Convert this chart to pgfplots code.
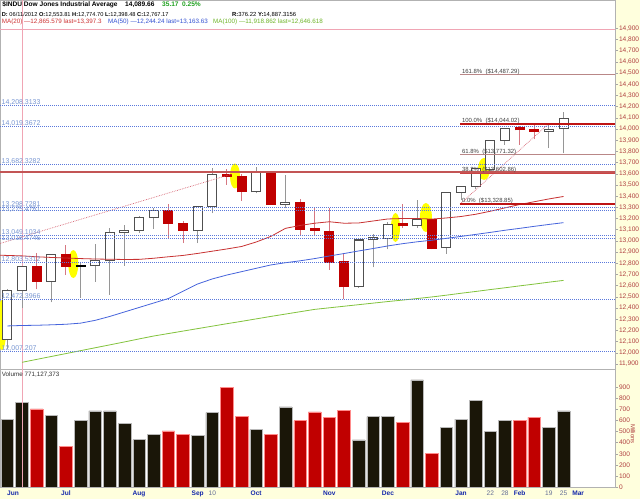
\documentclass[border=0pt]{standalone}
\usepackage{pgfplots}
\pgfplotsset{compat=1.18}
\usepackage{pgfplotstable}
\usepackage{fontspec}
\setmainfont{Liberation Sans}
\definecolor{bgyel}{RGB}{255,255,221}
\definecolor{candred}{RGB}{192,0,0}
\definecolor{wickred}{RGB}{214,120,130}
\definecolor{hollowb}{RGB}{80,80,80}
\definecolor{wickgray}{RGB}{150,150,150}
\definecolor{volblack}{RGB}{26,22,8}
\definecolor{ma20}{RGB}{200,50,50}
\definecolor{ma50}{RGB}{70,100,220}
\definecolor{ma100}{RGB}{130,195,60}
\definecolor{dotblue}{RGB}{90,120,220}
\definecolor{lblblue}{RGB}{120,150,210}
\definecolor{fibred}{RGB}{190,20,20}
\definecolor{fibthin}{RGB}{185,135,135}
\definecolor{resred}{RGB}{195,85,85}
\definecolor{trend}{RGB}{215,100,115}
\definecolor{cross}{RGB}{240,165,180}
\definecolor{ticklbl}{RGB}{176,64,64}
\definecolor{monthblue}{RGB}{20,40,170}
\definecolor{daygray}{RGB}{100,110,150}
\definecolor{hdrgreen}{RGB}{30,160,30}
\definecolor{hdrred}{RGB}{205,50,50}
\definecolor{hdrblue}{RGB}{50,80,210}
\definecolor{hdrgrn}{RGB}{110,180,40}
\definecolor{yel}{RGB}{255,255,0}

% weekly candles: i O H L C
\pgfplotstableread{
i O H L C
1 12119 12566 12035 12554
2 12554 12775 12398 12767
4 12640 12880 12451 12880
7 12777 12972 12635 12823
8 12822 13113 12517 13071
9 13073 13142 12776 13096
10 13096 13220 13075 13208
11 13207 13290 13105 13275
14 13090 13315 12979 13307
15 13306 13649 13247 13593
18 13437 13658 13425 13610
20 13329 13589 13290 13344
25 12588 13015 12580 13008
26 13009 13062 12764 13026
27 13025 13165 12925 13148
29 13135 13365 13118 13187
31 12938 13440 12883 13434
32 13435 13495 13366 13488
33 13488 13655 13460 13645
34 13640 13895 13610 13893
35 13896 14010 13857 14003
38 13982 14051 13828 13997
39 14000 14149 13783 14090
}\hollow
\pgfplotstableread{
i O H L C
3 12767 12895 12567 12640
5 12875 12963 12695 12772
12 13275 13330 13023 13158
13 13154 13181 12979 13091
16 13593 13643 13500 13579
17 13574 13600 13359 13437
19 13610 13615 13320 13329
21 13343 13372 13044 13104
22 13107 13291 13044 13093
23 13088 13291 12740 12811
24 12815 12889 12478 12588
28 13155 13330 13113 13135
30 13190 13195 12925 12934
36 14009 14025 13857 13993
37 13993 14036 13908 13982
}\redc
\pgfplotstableread{
i O H L C
6 12772 12800 12492 12777
}\blackc
% moving averages
\pgfplotstableread{
i v
0.494 12872
1 12870
2 12866
3 12858
4 12852
5 12847
6 12842
7 12838
8 12836
9 12834
10 12835
11 12845
12 12858
13 12870
14 12888
15 12908
16 12928
17 12950
18 12990
19 13040
20 13112
21 13138
22 13158
23 13171
24 13158
25 13160
26 13178
27 13196
28 13200
29 13200
30 13195
31 13205
32 13218
33 13238
34 13265
35 13295
36 13325
37 13350
38 13375
39 13397
}\mavingt
\pgfplotstableread{
i v
1 12240
2 12244
3 12246
4 12250
5 12255
6 12265
7 12290
8 12325
9 12365
10 12405
11 12445
12 12485
13 12550
14 12615
15 12660
16 12695
17 12725
18 12755
19 12785
20 12805
21 12822
22 12842
23 12865
24 12887
25 12910
26 12932
27 12955
28 12975
29 12992
30 13006
31 13023
32 13040
33 13058
34 13076
35 13095
36 13112
37 13130
38 13147
39 13163
}\mafifty
\pgfplotstableread{
i v
2 11915
3 11941
4 11967
5 11993
6 12019
7 12045
8 12071
9 12097
10 12124
11 12150
12 12172
13 12194
14 12216
15 12238
16 12260
17 12281
18 12303
19 12325
20 12346
21 12367
22 12388
23 12402
24 12416
25 12430
26 12444
27 12458
28 12471
29 12485
30 12499
31 12515
32 12532
33 12548
34 12565
35 12581
36 12598
37 12614
38 12631
39 12647
}\mahundred
% volume (millions)
\pgfplotstableread{
i v
1 614
2 764
4 650
6 602
7 687
8 687
9 572
10 427
11 475
14 463
15 671
18 518
20 723
25 425
26 635
27 635
29 967
31 536
32 614
33 780
34 500
35 602
38 542
39 687
}\volblk
\pgfplotstableread{
i v
3 705
5 367
12 506
13 472
16 903
17 638
19 472
21 599
22 678
23 629
24 689
28 587
30 307
36 602
37 629
}\volred

\pgfplotsset{
  wick/.style 2 args={draw=none, mark=none, forget plot,
    error bars/.cd, y dir=plus, y explicit, error mark=none,
    error bar style={draw=#1, line width=#2}},
  hline/.style={mark=none, forget plot},
  dotl/.style={hline, draw=dotblue, line width=1bp, dash pattern=on 1bp off 1bp},
}

\begin{document}
\begin{tikzpicture}[x=1bp,y=1bp]
\path[use as bounding box] (0,0) rectangle (640,499);
\fill[bgyel] (0,0) rectangle (640,499);

% ---------------- price panel ----------------
\begin{axis}[
  at={(0bp,130bp)}, anchor=south west,
  scale only axis, width=615bp, height=369bp,
  xmin=0.494, xmax=42.52, ymin=11855.2, ymax=15152.9,
  axis background/.style={fill=white},
  axis line style={draw=gray!60, line width=0.6bp},
  xtick=\empty,
  ytick={11900,12000,...,14900},
  ytick pos=right, yticklabel pos=right,
  tick align=outside, major tick length=3bp,
  tick style={draw=gray!70, line width=0.5bp},
  yticklabel style={font=\fontsize{6.6}{7}\selectfont, text=ticklbl, inner sep=0.8bp,
    /pgf/number format/1000 sep={,}, /pgf/number format/assume math mode=true},
  scaled y ticks=false,
]
% crosshair
\addplot[hline, draw=cross, line width=0.6bp] coordinates {(2,11855) (2,15153)};
\addplot[hline, draw=cross, line width=0.6bp] coordinates {(0.494,14887.3156) (42.52,14887.3156)};
% yellow highlight ovals
\fill[yel] (axis cs:0.63,12248) ellipse [x radius=4.5bp, y radius=25bp];
\fill[yel] (axis cs:5.503,12793) ellipse [x radius=5bp, y radius=14bp];
\fill[yel] (axis cs:16.55,13580) ellipse [x radius=5bp, y radius=12.5bp];
\fill[yel] (axis cs:27.52,13120) ellipse [x radius=4.5bp, y radius=14.5bp];
\fill[yel] (axis cs:29.60,13209) ellipse [x radius=6bp, y radius=14.5bp];
\fill[yel] (axis cs:33.57,13643) ellipse [x radius=6bp, y radius=11bp];
% wicks
\addplot[wick={wickgray}{1bp}] table[x=i, y=L, y error plus expr=\thisrow{H}-\thisrow{L}] {\hollow};
\addplot[wick={wickred}{1bp}] table[x=i, y=L, y error plus expr=\thisrow{H}-\thisrow{L}] {\redc};
\addplot[wick={wickgray}{1bp}] table[x=i, y=L, y error plus expr=\thisrow{H}-\thisrow{L}] {\blackc};
% hollow bodies
\addplot[wick={hollowb}{10bp}] table[x=i, y expr=\thisrow{O}-4.5, y error plus expr=\thisrow{C}-\thisrow{O}+9] {\hollow};
\addplot[wick={white}{8bp}] table[x=i, y expr=\thisrow{O}+4.5, y error plus expr=\thisrow{C}-\thisrow{O}-9] {\hollow};
% red bodies
\addplot[wick={candred}{10bp}] table[x=i, y expr=\thisrow{C}-4.5, y error plus expr=\thisrow{O}-\thisrow{C}+9] {\redc};
% black dash
\addplot[wick={black}{10bp}] table[x=i, y expr=\thisrow{O}-4.5, y error plus expr=\thisrow{C}-\thisrow{O}+9] {\blackc};
% moving averages
\addplot[hline, draw=ma100, line width=0.8bp] table[x=i,y=v] {\mahundred};
\addplot[hline, draw=ma50, line width=0.8bp] table[x=i,y=v] {\mafifty};
\addplot[hline, draw=ma20, line width=0.8bp] table[x=i,y=v] {\mavingt};
% trend lines
\addplot[hline, draw=trend, line width=0.7bp, densely dotted] coordinates {(0.494,12977) (16.35,13598)};
\addplot[hline, draw=trend, line width=0.7bp, densely dotted] coordinates {(31.93,13328.85) (37.96,14044.02)};
% resistance line
\addplot[hline, draw=resred, line width=1.8bp] coordinates {(0.494,13618) (42.52,13618)};
% fibonacci
\addplot[hline, draw=fibthin, line width=0.8bp] coordinates {(31.93,14487.29) (42.52,14487.29)};
\addplot[hline, draw=fibred, line width=1.5bp] coordinates {(31.93,14044.02) (42.52,14044.02)};
\addplot[hline, draw=fibthin, line width=0.8bp] coordinates {(31.93,13771.32) (42.52,13771.32)};
\addplot[hline, draw=fibred!80!white, line width=1.5bp] coordinates {(31.93,13602.86) (42.52,13602.86)};
\addplot[hline, draw=fibred, line width=1.5bp] coordinates {(31.93,13328.85) (42.52,13328.85)};
% dotted levels
\addplot[dotl] coordinates {(0.494,14208.3133) (42.52,14208.3133)};
\addplot[dotl] coordinates {(0.494,14019.3672) (42.52,14019.3672)};
\addplot[dotl] coordinates {(0.494,13682.3282) (42.52,13682.3282)};
\addplot[dotl] coordinates {(0.494,13298.7281) (42.52,13298.7281)};
\addplot[dotl] coordinates {(0.494,13275.4761) (42.52,13275.4761)};
\addplot[dotl] coordinates {(0.494,13049.1034) (42.52,13049.1034)};
\addplot[dotl] coordinates {(0.494,13018.4746) (42.52,13018.4746)};
\addplot[dotl] coordinates {(0.494,12803.5312) (42.52,12803.5312)};
\addplot[dotl] coordinates {(0.494,12472.3966) (42.52,12472.3966)};
\addplot[dotl] coordinates {(0.494,12007.207) (42.52,12007.207)};
% level labels
\begin{scope}[every node/.style={anchor=south west, inner sep=0.3bp, xshift=1.2bp, yshift=-0.3bp,
    font=\fontsize{7}{7}\selectfont, text=lblblue}]
\node at (axis cs:0.494,14208.3133) {14,208.3133};
\node at (axis cs:0.494,14019.3672) {14,019.3672};
\node at (axis cs:0.494,13682.3282) {13,682.3282};
\node at (axis cs:0.494,13298.7281) {13,298.7281};
\node at (axis cs:0.494,13249) {13,275.4761};
\node at (axis cs:0.494,13049.1034) {13,049.1034};
\node at (axis cs:0.494,12995) {13,018.4746};
\node at (axis cs:0.494,12803.5312) {12,803.5312};
\node at (axis cs:0.494,12472.3966) {12,472.3966};
\node at (axis cs:0.494,12007.207) {12,007.207};
\end{scope}
\begin{scope}[every node/.style={anchor=south west, inner sep=0.3bp, xshift=1.5bp, yshift=-0.3bp,
    font=\fontsize{6}{6}\selectfont, text=black!75}]
\node at (axis cs:31.93,14487.29) {161.8\%\ \ (\$14,487.29)};
\node at (axis cs:31.93,14044.02) {100.0\%\ \ (\$14,044.02)};
\node at (axis cs:31.93,13771.32) {61.8\%\ \ (\$13,771.32)};
\node at (axis cs:31.93,13602.86) {38.2\%\ \ (\$13,602.86)};
\node at (axis cs:31.93,13328.85) {0.0\%\ \ (\$13,328.85)};
\end{scope}
\end{axis}

% ---------------- volume panel ----------------
\begin{axis}[
  at={(0bp,12bp)}, anchor=south west,
  scale only axis, width=615bp, height=118bp,
  xmin=0.494, xmax=42.52, ymin=0, ymax=1066,
  axis background/.style={fill=white},
  axis line style={draw=gray!60, line width=0.6bp},
  xtick={1.382,5,10,14,15,18,23,27,32,34,35,36,38,39,40},
  xticklabels={\textcolor{monthblue}{\textbf{Jun}},\textcolor{monthblue}{\textbf{Jul}},
    \textcolor{monthblue}{\textbf{Aug}},\textcolor{monthblue}{\textbf{Sep}},\textcolor{daygray}{10},
    \textcolor{monthblue}{\textbf{Oct}},\textcolor{monthblue}{\textbf{Nov}},\textcolor{monthblue}{\textbf{Dec}},
    \textcolor{monthblue}{\textbf{Jan}},\textcolor{daygray}{22},\textcolor{daygray}{28},
    \textcolor{monthblue}{\textbf{Feb}},\textcolor{daygray}{19},\textcolor{daygray}{25},
    \textcolor{monthblue}{\textbf{Mar}}},
  x tick style={draw=none},
  xticklabel style={font=\fontsize{6.6}{7}\selectfont, inner sep=1bp, yshift=0.5bp},
  ytick={0,100,...,900},
  ytick pos=right, yticklabel pos=right,
  tick align=outside, major tick length=3bp,
  y tick style={draw=gray!70, line width=0.5bp},
  yticklabel style={font=\fontsize{6.6}{7}\selectfont, text=ticklbl, inner sep=0.8bp,
    /pgf/number format/assume math mode=true},
  scaled y ticks=false,
]
\addplot[ybar, bar width=12.6bp, bar shift=0pt, fill=volblack, draw=gray!55, line width=0.5bp] table[x=i,y=v] {\volblk};
\addplot[ybar, bar width=12.6bp, bar shift=0pt, fill=candred, draw=red!45, line width=0.5bp] table[x=i,y=v] {\volred};
\addplot[hline, draw=cross, line width=0.6bp] coordinates {(2,0) (2,1066)};
\end{axis}

% Millions label
\node[rotate=-90, font=\fontsize{6}{6}\selectfont, text=ticklbl, inner sep=0] at (633,65) {Millions};
% Volume label
\node[anchor=west, inner sep=0, font=\fontsize{6.3}{7}\selectfont, text=black!80] at (1.7,124) {Volume 771,127,373};

% header
\node[anchor=west, inner sep=0, font=\fontsize{6.6}{7}\selectfont\bfseries] at (2.2,494.3) {\$INDU Dow Jones Industrial Average};
\node[anchor=west, inner sep=0, font=\fontsize{6.6}{7}\selectfont\bfseries] at (125,494.3) {14,089.66};
\node[anchor=west, inner sep=0, font=\fontsize{6.6}{7}\selectfont\bfseries, text=hdrgreen] at (162,494.3) {35.17};
\node[anchor=west, inner sep=0, font=\fontsize{6.6}{7}\selectfont\bfseries, text=hdrgreen] at (182,494.3) {0.25\%};
\node[anchor=west, inner sep=0, font=\fontsize{5.7}{7}\selectfont] at (1.7,484) {\textbf{D:} 06/11/2012 \textbf{O:}12,553.81 \textbf{H:}12,774.70 \textbf{L:}12,398.48 \textbf{C:}12,767.17};
\node[anchor=west, inner sep=0, font=\fontsize{5.9}{7}\selectfont] at (232,484) {\textbf{R:}376.22 \textbf{Y:}14,887.3156};
\node[anchor=west, inner sep=0, font=\fontsize{6.3}{7}\selectfont, text=hdrred] at (1.7,476.7) {MA(20) —12,865.579 last=13,397.3};
\node[anchor=west, inner sep=0, font=\fontsize{6.3}{7}\selectfont, text=hdrblue] at (108,476.7) {MA(50) —12,244.24 last=13,163.63};
\node[anchor=west, inner sep=0, font=\fontsize{6.3}{7}\selectfont, text=hdrgrn] at (213,476.7) {MA(100) —11,918.862 last=12,646.618};
\end{tikzpicture}
\end{document}
